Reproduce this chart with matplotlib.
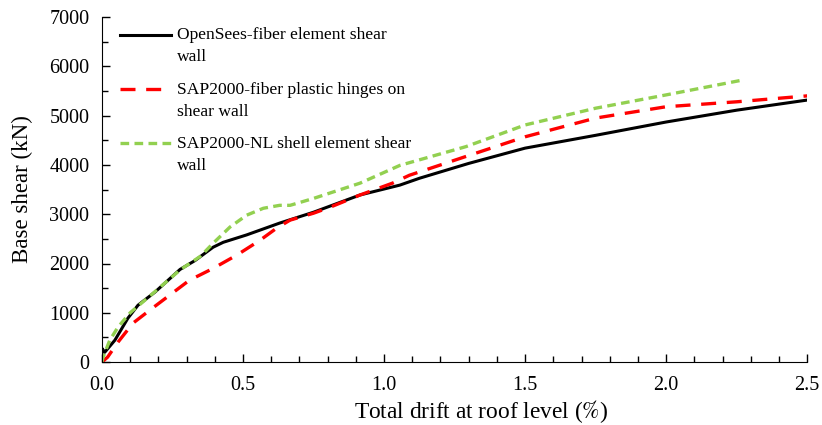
import numpy as np
import matplotlib
matplotlib.use("Agg")
import matplotlib.pyplot as plt
from matplotlib.ticker import MultipleLocator
from matplotlib.transforms import Affine2D

plt.rcParams["font.family"] = ["Liberation Serif", "DejaVu Serif"]
plt.rcParams["mathtext.fontset"] = "stix"

# OpenSees fiber element shear wall
drift_os = [0.0, 0.0, 0.01, 0.046, 0.092, 0.128, 0.188, 0.277, 0.33, 0.394, 0.43,
            0.513, 0.63, 0.75, 0.915, 1.056, 1.126, 1.3, 1.5, 1.75, 2.0, 2.25, 2.5]
shear_os = [0, 280, 200, 445, 890, 1155, 1420, 1880, 2060, 2330, 2430,
            2580, 2820, 3040, 3390, 3590, 3730, 4030, 4340, 4600, 4870, 5110, 5315]

# SAP2000 fiber plastic hinges
drift_ph = [0.0, 0.02, 0.057, 0.11, 0.17, 0.31, 0.394, 0.478, 0.56, 0.62, 0.667,
            0.75, 0.81, 0.915, 1.03, 1.09, 1.5, 1.75, 2.0, 2.25, 2.5]
shear_ph = [0, 100, 405, 790, 1055, 1660, 1900, 2170, 2470, 2720, 2880,
            3020, 3145, 3390, 3630, 3790, 4570, 4950, 5180, 5280, 5400]

# SAP2000 nonlinear shell element
drift_sh = [0.0, 0.004, 0.028, 0.057, 0.1, 0.188, 0.277, 0.35, 0.394, 0.454, 0.513,
            0.572, 0.63, 0.667, 0.75, 0.915, 1.056, 1.29, 1.5, 1.75, 2.0, 2.27]
shear_sh = [0, 100, 445, 710, 1000, 1430, 1870, 2150, 2410, 2740, 2980,
            3120, 3180, 3180, 3320, 3630, 3990, 4370, 4810, 5150, 5420, 5720]

fig, ax = plt.subplots(figsize=(8.22, 4.25), dpi=100)
fig.subplots_adjust(left=0.124, right=0.982, bottom=0.148, top=0.96)

ax.plot(drift_os, shear_os, color="black", lw=2.2,
        label="OpenSees-fiber element shear\nwall")
ax.plot(drift_ph, shear_ph, color="#ff0000", lw=2.4, dashes=(4.5, 3.2),
        label="SAP2000-fiber plastic hinges on\nshear wall")
ax.plot(drift_sh, shear_sh, color="#92d050", lw=2.4, dashes=(2.6, 1.6),
        label="SAP2000-NL shell element shear\nwall")

ax.set_xlim(0, 2.5)
ax.set_ylim(0, 7000)
ax.xaxis.set_major_locator(MultipleLocator(0.5))
ax.xaxis.set_minor_locator(MultipleLocator(0.1))
ax.yaxis.set_major_locator(MultipleLocator(1000))
ax.yaxis.set_minor_locator(MultipleLocator(500))
ax.xaxis.set_major_formatter(matplotlib.ticker.FormatStrFormatter("%.1f"))

for side in ["top", "right"]:
    ax.spines[side].set_visible(False)
ax.tick_params(which="major", direction="in", length=6, width=1, labelsize=14.5)
ax.tick_params(axis="x", which="major", pad=10)
ax.tick_params(axis="y", which="major", pad=9)
ax.tick_params(which="minor", direction="in", length=4, width=1)

ax.set_xlabel("Total drift at roof level ($\\%$)", fontsize=16.8)
ax.set_ylabel("Base shear (kN)", fontsize=16.5)
ax.xaxis.set_label_coords(0.537, -0.105)
ax.yaxis.set_label_coords(-0.097, 0.5)

leg = ax.legend(loc="upper left", bbox_to_anchor=(0.003, 1.016), frameon=False,
                fontsize=12.6, handlelength=2.9, handletextpad=0.35,
                labelspacing=0.93)
for t in leg.get_texts():
    t.set_linespacing(1.5)
# legend lines sit on the first text line, like the original
for line in leg.get_lines():
    line.set_transform(line.get_transform() + Affine2D().translate(0, 11.5))

fig.savefig("out.png", dpi=100)
